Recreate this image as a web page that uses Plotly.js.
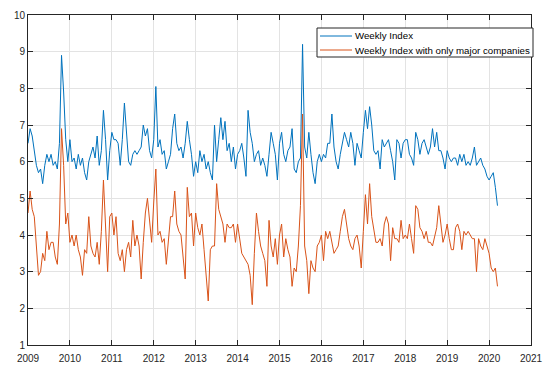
<!DOCTYPE html>
<html>
<head>
<meta charset="utf-8">
<script src="https://cdn.plot.ly/plotly-3.0.1.min.js"></script>
<style>
html,body{margin:0;padding:0;background:#fff;}
#chart{width:550px;height:377px;}
</style>
</head>
<body>
<div id="chart"></div>
<script>
// Sampling of the series: first year and step (in years) between readings
const startYear = 2009;
const stepYears = 0.05;

const seriesNames = ["Weekly Index", "Weekly Index with only major companies"];
const seriesColors = ['#0072BD', '#D95319'];

const weeklyIndex = [
  6.5,6.9,6.7,6.3,5.9,5.7,5.8,5.4,5.9,6.2, 6.0,6.2,5.9,6.0,5.8,6.5,8.9,7.9,6.6,6.0,
  6.6,6.0,6.1,5.8,6.2,5.9,6.1,5.7,5.5,6.0, 6.2,6.4,6.1,6.7,5.9,6.3,7.4,6.6,5.5,6.3,
  6.8,6.6,6.6,6.5,5.9,6.6,7.6,6.7,6.0,5.9, 6.2,6.3,6.2,6.3,6.4,7.0,6.7,6.9,6.3,6.1,
  6.6,8.05,6.4,6.6,6.2,6.3,5.8,6.0,6.2,6.9, 7.3,6.5,6.3,6.4,6.1,6.5,7.1,6.6,6.2,5.6,
  6.0,5.7,6.3,6.0,6.2,5.8,6.0,5.7,5.5,7.0, 6.0,6.6,7.2,6.6,7.1,6.3,6.5,6.0,6.4,5.8,
  6.2,6.3,6.5,6.1,5.6,7.4,6.8,6.5,6.0,6.2, 6.3,5.9,6.1,5.9,5.6,6.2,6.8,6.5,6.2,5.5,
  6.5,6.8,6.2,6.0,6.3,6.4,6.9,5.8,5.7,6.0, 6.1,9.2,6.4,6.1,6.8,6.2,5.7,5.4,6.0,6.2,
  6.0,6.2,6.1,6.5,6.5,7.3,6.4,6.0,5.8,6.2, 6.5,6.8,6.6,6.4,6.8,6.5,5.9,6.5,6.3,6.1,
  6.8,7.4,6.9,7.5,7.0,6.3,6.2,6.3,5.8,6.6, 6.4,6.5,6.6,6.3,6.0,5.5,6.6,6.5,6.1,6.5,
  6.6,6.6,6.2,6.1,5.9,6.8,6.6,6.2,6.5,6.6, 6.4,6.2,6.4,6.9,6.4,6.8,6.3,6.3,6.1,5.8,
  6.3,6.1,6.0,6.1,6.1,5.9,6.2,6.0,6.2,5.9, 6.0,5.9,6.1,6.4,5.9,6.0,6.1,5.9,5.8,5.6,
  5.5,5.6,5.7,5.3,4.8
];

const majorCompaniesIndex = [
  4.6,5.2,4.7,4.5,3.7,2.9,3.0,3.5,3.3,4.1, 3.6,3.8,3.8,3.4,3.2,4.3,6.9,5.9,4.3,4.6,
  3.8,4.0,3.7,4.0,3.6,3.4,2.9,3.6,3.5,4.5, 3.7,3.5,3.4,3.8,3.2,4.1,5.5,4.2,3.0,4.5,
  4.6,4.0,4.5,3.5,3.3,3.6,3.0,3.6,3.8,3.4, 4.4,3.7,4.0,3.7,2.8,3.8,4.6,5.0,4.3,3.8,
  4.9,5.8,4.0,4.1,3.8,3.9,3.2,3.9,4.5,4.5, 5.2,4.3,4.1,4.0,3.4,2.8,5.3,4.5,4.6,3.7,
  4.6,4.2,4.0,4.3,3.6,3.0,2.2,3.6,3.7,3.7, 5.4,4.7,4.5,4.3,3.8,4.3,4.2,4.2,4.3,3.8,
  4.3,3.9,3.5,3.4,3.3,3.2,2.9,2.1,3.5,4.6, 4.1,3.7,3.5,3.3,2.6,4.4,3.7,3.4,3.9,3.2,
  4.0,4.3,3.4,3.9,3.6,3.4,2.6,3.1,3.0,3.7, 4.8,7.3,3.7,3.3,2.4,3.3,3.1,3.0,3.7,3.8,
  4.0,3.3,4.1,3.9,4.1,3.8,3.5,3.6,3.7,4.1, 4.5,4.7,4.3,3.9,3.7,3.6,3.9,4.0,3.7,3.1,
  4.1,5.1,4.3,5.4,4.5,4.1,3.8,3.8,3.9,3.7, 4.3,4.5,4.3,3.3,4.2,3.9,3.9,3.8,4.4,3.9,
  4.0,3.9,4.3,3.9,3.5,4.8,4.7,4.2,4.1,3.9, 4.1,3.8,3.8,3.7,4.0,4.2,4.8,4.3,3.8,4.0,
  4.3,3.9,3.6,3.6,4.2,4.3,4.1,3.6,4.1,4.0, 4.1,4.0,3.9,3.9,3.0,3.9,3.7,3.6,3.9,3.7,
  3.5,3.1,3.0,3.1,2.6
];

const xTicks = [2009,2010,2011,2012,2013,2014,2015,2016,2017,2018,2019,2020,2021];
const yTicks = [1,2,3,4,5,6,7,8,9,10];

const xs = weeklyIndex.map((_, i) => +(startYear + stepYears * i).toFixed(4));

const traces = [
  {x: xs, y: weeklyIndex, name: seriesNames[0], type: 'scatter', mode: 'lines',
   line: {color: seriesColors[0], width: 1}},
  {x: xs, y: majorCompaniesIndex, name: seriesNames[1], type: 'scatter', mode: 'lines',
   line: {color: seriesColors[1], width: 1}}
];

const W = 550, H = 377;
const M = {l: 28, r: 19, t: 15, b: 32};
const pw = W - M.l - M.r, ph = H - M.t - M.b;
const px = v => (v - M.l) / pw;          // pixel -> paper x
const py = v => 1 - (v - M.t) / ph;      // pixel -> paper y

const font = 'Liberation Sans, Arial, Helvetica, sans-serif';

const axisCommon = {
  showline: true, linecolor: '#262626', linewidth: 1, mirror: 'ticks',
  ticks: 'inside', ticklen: 5, tickwidth: 1, tickcolor: '#262626',
  showgrid: true, gridcolor: '#e3e3e3', gridwidth: 1, zeroline: false,
  tickfont: {family: font, size: 10, color: '#262626'}
};

// Legend box drawn as shapes + text annotations (MATLAB-style compact legend)
const legBox = {x0: 317, x1: 533, y0: 28, y1: 57};
const legRows = [36, 50];
const shapes = [
  {type: 'rect', xref: 'paper', yref: 'paper', layer: 'above',
   x0: px(legBox.x0), x1: px(legBox.x1), y0: py(legBox.y1), y1: py(legBox.y0),
   fillcolor: '#ffffff', line: {color: '#262626', width: 1}}
];
const annotations = [];
seriesNames.forEach((name, i) => {
  shapes.push({type: 'line', xref: 'paper', yref: 'paper', layer: 'above',
    x0: px(320), x1: px(352), y0: py(legRows[i]), y1: py(legRows[i]),
    line: {color: seriesColors[i], width: 1}});
  annotations.push({xref: 'paper', yref: 'paper', x: px(354), y: py(legRows[i]),
    xanchor: 'left', yanchor: 'middle', showarrow: false, text: name,
    font: {family: font, size: 9.7, color: '#000'}, borderpad: 0});
});

const layout = {
  width: W, height: H,
  margin: M,
  paper_bgcolor: '#fff', plot_bgcolor: '#fff',
  showlegend: false,
  xaxis: Object.assign({}, axisCommon, {range: [2009, 2021], tickvals: xTicks, ticktext: xTicks.map(String), ticklabelstandoff: 4}),
  yaxis: Object.assign({}, axisCommon, {range: [1, 10], tickvals: yTicks, ticktext: yTicks.map(String)}),
  shapes: shapes,
  annotations: annotations
};

Plotly.newPlot('chart', traces, layout, {staticPlot: true, displayModeBar: false});
</script>
</body>
</html>
